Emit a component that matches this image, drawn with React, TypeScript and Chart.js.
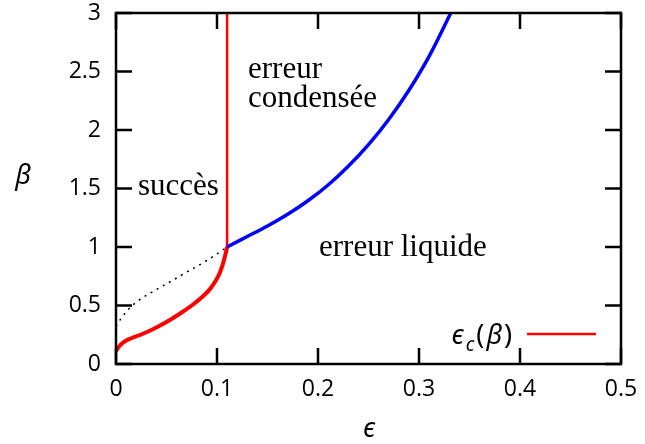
import React, { useEffect, useRef } from 'react';
import { Chart, registerables } from 'chart.js';
Chart.register(...registerables);

// axis ticks
const xTicks = [0, 0.1, 0.2, 0.3, 0.4, 0.5];
const xTickLabels = ['0', '0.1', '0.2', '0.3', '0.4', '0.5'];
const yTicks = [0, 0.5, 1, 1.5, 2, 2.5, 3];
const yTickLabels = ['0', '0.5', '1', '1.5', '2', '2.5', '3'];

// critical line eps_c(beta), lower branch (red)
const critEps = [0, 0.003, 0.008, 0.015, 0.025, 0.035, 0.045, 0.055, 0.065, 0.075, 0.085, 0.093, 0.099, 0.103, 0.106, 0.108, 0.1093, 0.11];
const critBeta = [0.11, 0.15, 0.19, 0.22, 0.252, 0.29, 0.335, 0.385, 0.44, 0.5, 0.57, 0.64, 0.715, 0.785, 0.86, 0.925, 0.97, 1.0];
// critical line, vertical branch (red)
const critVertEps = [0.11, 0.11];
const critVertBeta = [1.0, 3.0];
// condensation line (blue)
const condEps = [0.11, 0.13, 0.15, 0.17, 0.19, 0.21, 0.23, 0.25, 0.27, 0.29, 0.31, 0.3315];
const condBeta = [1.0, 1.09, 1.18, 1.28, 1.395, 1.53, 1.69, 1.875, 2.09, 2.34, 2.63, 3.0];
// dotted continuation (black)
const dotEps = [0, 0.002, 0.006, 0.012, 0.019, 0.027, 0.0356, 0.052, 0.07, 0.09, 0.11];
const dotBeta = [0.32, 0.35, 0.4, 0.465, 0.52, 0.57, 0.615, 0.695, 0.785, 0.885, 1.0];

// region labels
const regionLabels = ['succès', 'erreur', 'condensée', 'erreur liquide'];
const regionEps = [0.0218, 0.1307, 0.1307, 0.201];
const regionBeta = [1.444, 2.444, 2.197, 0.923];

const pts = (xs: number[], ys: number[]) => xs.map((x, i) => ({ x, y: ys[i] }));

export default function App() {
  const ref = useRef<HTMLCanvasElement>(null);
  useEffect(() => {
    document.body.style.margin = '0';
    const canvas = ref.current!;
    const greek = '"Noto Sans", "DejaVu Sans", sans-serif';
    const framePlugin = {
      id: 'frame',
      afterDraw(chart: any) {
        const { ctx, chartArea: a, scales } = chart;
        const xs = scales.x;
        const ys = scales.y;
        ctx.save();
        ctx.strokeStyle = '#000';
        ctx.lineWidth = 2.5;
        ctx.strokeRect(a.left, a.top, a.right - a.left, a.bottom - a.top);
        const L = 16;
        ctx.beginPath();
        xTicks.forEach((v) => {
          const p = xs.getPixelForValue(v);
          ctx.moveTo(p, a.bottom);
          ctx.lineTo(p, a.bottom - L);
          ctx.moveTo(p, a.top);
          ctx.lineTo(p, a.top + L);
        });
        yTicks.forEach((v) => {
          const p = ys.getPixelForValue(v);
          ctx.moveTo(a.left, p);
          ctx.lineTo(a.left + L, p);
          ctx.moveTo(a.right, p);
          ctx.lineTo(a.right - L, p);
        });
        ctx.stroke();

        // region labels
        ctx.fillStyle = '#000';
        ctx.font = '31px "Liberation Serif", serif';
        ctx.textAlign = 'left';
        ctx.textBaseline = 'alphabetic';
        regionLabels.forEach((t, i) => {
          ctx.fillText(t, xs.getPixelForValue(regionEps[i]), ys.getPixelForValue(regionBeta[i]));
        });

        // axis titles
        ctx.font = 'italic 27px ' + greek;
        ctx.textAlign = 'center';
        ctx.fillText('β', 23, 184);
        ctx.fillText('ϵ', 369, 437);

        // legend
        const lineEnd = a.right - 25;
        const lineStart = a.right - 94;
        const ly = a.bottom - 30;
        ctx.strokeStyle = '#ff0000';
        ctx.lineWidth = 2.5;
        ctx.beginPath();
        ctx.moveTo(lineStart, ly);
        ctx.lineTo(lineEnd, ly);
        ctx.stroke();
        const parts = [
          { t: 'ϵ', f: 'italic 27px ' + greek, dy: 0 },
          { t: 'c', f: 'italic 19px ' + greek, dy: 7 },
          { t: '(', f: '27px ' + greek, dy: 0 },
          { t: 'β', f: 'italic 27px ' + greek, dy: 0 },
          { t: ')', f: '27px ' + greek, dy: 0 },
        ];
        let total = 0;
        const widths = parts.map((p) => {
          ctx.font = p.f;
          const w = ctx.measureText(p.t).width + 2;
          total += w;
          return w;
        });
        let x = lineStart - 13 - total;
        ctx.textAlign = 'left';
        parts.forEach((p, i) => {
          ctx.font = p.f;
          ctx.fillText(p.t, x, ly + 10 + p.dy);
          x += widths[i];
        });
        ctx.restore();
      },
    };

    const chart = new Chart(canvas, {
      type: 'line',
      data: {
        datasets: [
          {
            data: pts(dotEps, dotBeta),
            borderColor: '#000',
            borderWidth: 1.5,
            borderDash: [2, 5],
            pointRadius: 0,
            cubicInterpolationMode: 'monotone',
          },
          {
            data: pts(condEps, condBeta),
            borderColor: '#0000ff',
            borderWidth: 3.5,
            pointRadius: 0,
            cubicInterpolationMode: 'monotone',
          },
          {
            data: pts(critEps, critBeta),
            borderColor: '#ff0000',
            borderWidth: 4,
            pointRadius: 0,
            cubicInterpolationMode: 'monotone',
          },
          {
            data: pts(critVertEps, critVertBeta),
            borderColor: '#ff0000',
            borderWidth: 2.5,
            pointRadius: 0,
          },
        ],
      },
      options: {
        responsive: false,
        animation: false,
        events: [],
        layout: { padding: { left: 0, right: 24, top: 13, bottom: 0 } },
        plugins: { legend: { display: false }, tooltip: { enabled: false } },
        scales: {
          x: {
            type: 'linear',
            min: 0,
            max: 0.5,
            afterFit: (s: any) => {
              s.height = 80;
              s.paddingLeft = 0;
              s.paddingRight = 0;
            },
            afterBuildTicks: (s: any) => { s.ticks = xTicks.map((v) => ({ value: v })); },
            ticks: {
              autoSkip: false,
              maxRotation: 0,
              padding: 12,
              color: '#000',
              font: { family: '"Open Sans", sans-serif', size: 23 },
              callback: (_v: any, i: number) => xTickLabels[i],
            },
            grid: { display: false, drawTicks: false },
            border: { display: false },
          },
          y: {
            type: 'linear',
            min: 0,
            max: 3,
            afterFit: (s: any) => {
              s.width = 116;
              s.paddingTop = 0;
              s.paddingBottom = 0;
            },
            afterBuildTicks: (s: any) => { s.ticks = yTicks.map((v) => ({ value: v })); },
            ticks: {
              autoSkip: false,
              padding: 15,
              color: '#000',
              font: { family: '"Open Sans", sans-serif', size: 23 },
              callback: (_v: any, i: number) => yTickLabels[i],
            },
            grid: { display: false, drawTicks: false },
            border: { display: false },
          },
        },
      },
      plugins: [framePlugin],
    } as any);
    return () => chart.destroy();
  }, []);
  return <canvas ref={ref} width={645} height={444} style={{ display: 'block' }} />;
}
